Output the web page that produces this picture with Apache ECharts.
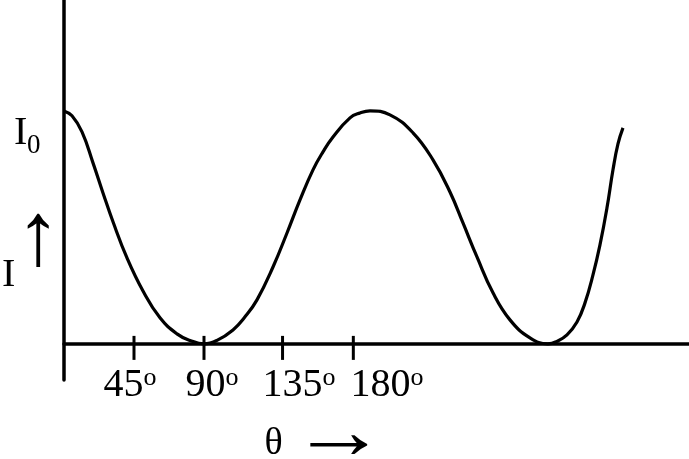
<!DOCTYPE html>
<html>
<head>
<meta charset="utf-8">
<script src="https://cdn.jsdelivr.net/npm/echarts@6/dist/echarts.min.js"></script>
<style>html,body{margin:0;padding:0;background:#fff}#c{width:689px;height:459px}</style>
</head>
<body>
<div id="c"></div>
<script>
// angle in degrees (as drawn), relative intensity I/I0
var curveTheta = [0, 5.14, 11.57, 18.64, 25.07, 31.5, 40.5, 50.79, 61.71, 72.64, 81.0, 90,
                  98.36, 108.64, 116.36, 124.07, 134.36, 143.36, 151.71, 160.07, 166.5, 172.93, 183.86, 190.29, 196.71,
                  209.57, 224.36, 237.21, 248.14, 256.5, 265.5, 275.79, 286.71, 299.57, 311.14,
                  316.93, 323.36, 329.79, 334.93, 340.07, 344.57, 349.07, 352.93, 356.14, 359.36];
var curveI     = [1.0, 0.979, 0.910, 0.777, 0.648, 0.524, 0.369, 0.227, 0.112, 0.043, 0.015, 0,
                  0.015, 0.060, 0.116, 0.189, 0.330, 0.476, 0.618, 0.747, 0.824, 0.888, 0.970, 0.991, 1.0,
                  0.983, 0.906, 0.790, 0.652, 0.519, 0.373, 0.219, 0.103, 0.026, 0,
                  0.011, 0.039, 0.094, 0.176, 0.296, 0.425, 0.584, 0.747, 0.858, 0.927];
var tickAt     = [45, 90, 140.5, 186];
var tickLabels = ['45', '90', '135', '180'];
var labelAt    = [42.4, 95.1, 151.1, 207.6];

var serif = "'Liberation Serif', 'Times New Roman', serif";
var chart = echarts.init(document.getElementById('c'), null, {renderer: 'canvas'});

var lineData = curveTheta.map(function (t, i) { return [t, curveI[i]]; });
var tickData = tickAt.map(function (t) { return [t, 0]; });

chart.setOption({
  animation: false,
  backgroundColor: '#fff',
  grid: {left: 64, right: 0, top: 0, bottom: 79, outerBoundsMode: 'none', containLabel: false},
  xAxis: {
    type: 'value', min: 0, max: 401.8,
    axisLine: {show: true, onZero: true, lineStyle: {color: '#000', width: 3.5}},
    axisTick: {show: false},
    splitLine: {show: false},
    axisLabel: {
      show: true,
      customValues: labelAt,
      margin: -15,
      formatter: function (v) {
        var k = 0, best = 1e9;
        for (var i = 0; i < labelAt.length; i++) {
          var d = Math.abs(labelAt[i] - v);
          if (d < best) { best = d; k = i; }
        }
        return '{n|' + tickLabels[k] + '}{s|o}';
      },
      rich: {
        n: {fontFamily: serif, fontSize: 40, lineHeight: 40, color: '#000'},
        s: {fontFamily: serif, fontSize: 26, lineHeight: 20, verticalAlign: 'top', color: '#000'}
      }
    }
  },
  yAxis: {
    type: 'value', min: -0.155, max: 1.476,
    axisLine: {show: true, onZero: false, lineStyle: {color: '#000', width: 3.5}},
    axisTick: {show: false},
    axisLabel: {show: false},
    splitLine: {show: false}
  },
  series: [
    {
      type: 'line',
      data: lineData,
      smooth: 0.45,
      showSymbol: false,
      lineStyle: {color: '#000', width: 3.2},
      clip: false,
      z: 3
    },
    {
      type: 'custom',
      data: tickData,
      encode: {x: 0, y: 1},
      renderItem: function (params, api) {
        var p = api.coord([api.value(0), 0]);
        return {
          type: 'line',
          shape: {x1: p[0], y1: p[1] - 8, x2: p[0], y2: p[1] + 16},
          style: {stroke: '#000', lineWidth: 3}
        };
      },
      z: 4
    }
  ],
  graphic: [
    {type: 'text', x: 14, y: 133.5, style: {text: 'I', font: '40px ' + serif, fill: '#000', verticalAlign: 'middle'}},
    {type: 'text', x: 27, y: 146, style: {text: '0', font: '27px ' + serif, fill: '#000', verticalAlign: 'middle'}},
    {type: 'text', x: 2, y: 275.5, style: {text: 'I', font: '40px ' + serif, fill: '#000', verticalAlign: 'middle'}},
    {type: 'text', x: 38, y: 240, style: {text: '\u2191', font: '90px ' + serif, fill: '#000', align: 'center', verticalAlign: 'middle'}},
    {type: 'text', x: 273.5, y: 444, style: {text: '\u03B8', font: '38px ' + serif, fill: '#000', align: 'center', verticalAlign: 'middle'}},
    {type: 'text', x: 339, y: 437, scaleX: 1.2, style: {text: '\u2192', font: '80px ' + serif, fill: '#000', align: 'center', verticalAlign: 'middle'}}
  ]
});
</script>
</body>
</html>
